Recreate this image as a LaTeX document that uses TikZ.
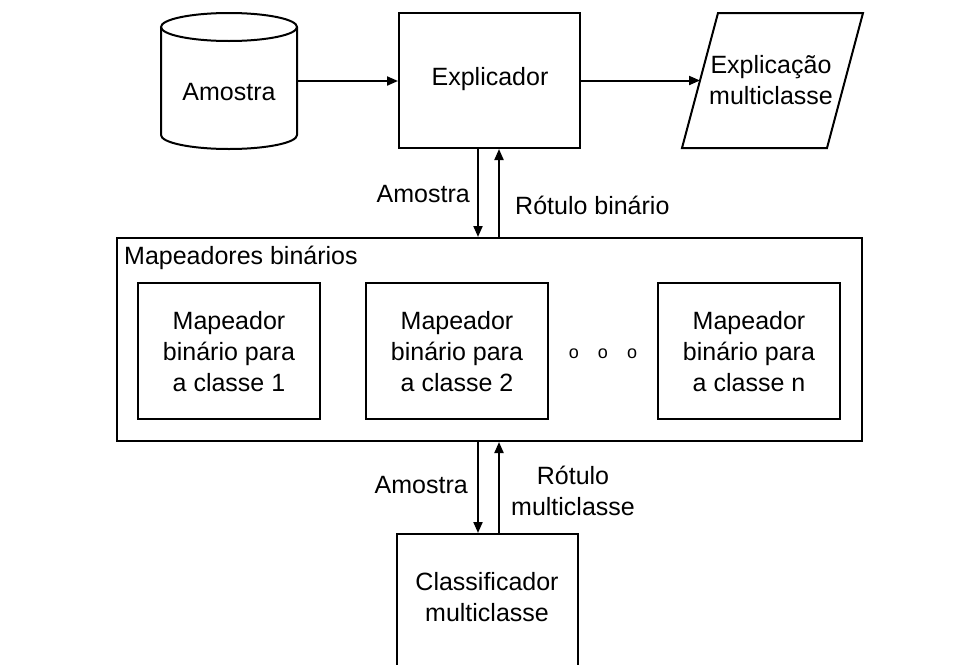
\documentclass[tikz,border=0pt]{standalone}
\usepackage{fontspec}
\setmainfont{Liberation Sans}
\usetikzlibrary{arrows.meta,calc}
\tikzset{
  lw/.style={line width=2pt},
  boxnode/.style={draw, lw, rectangle, inner sep=0pt, align=center},
  arr/.style={lw, -{Triangle[length=11pt,width=9pt]}},
  txt/.style={inner sep=0pt, align=center, font=\fontsize{25}{31}\selectfont},
}
\begin{document}
\begin{tikzpicture}[x=1pt,y=-1pt]
\useasboundingbox (0,0) rectangle (968,664);
\fill[white] (0,0) rectangle (968,664);
\clip (0,0) rectangle (968,664);
% cylinder
\node[inner sep=0pt, minimum width=136pt, minimum height=136pt] (cyl) at (229,81) {};
\draw[lw] (161,27) -- (161,135) arc[start angle=180, end angle=0, x radius=68, y radius=14] -- (297,27);
\draw[lw] (229,27) ellipse [x radius=68, y radius=14];
\node[txt] (cyltxt) at (229,92) {Amostra};
% explicador
\node[boxnode, minimum width=181pt, minimum height=135pt] (expl) at (489.5,80.5) {};
\node[txt] (expltxt) at (490,79) {Explicador};
% parallelogram output
\coordinate (pTL) at (718,13);
\coordinate (pTR) at (863,13);
\coordinate (pBR) at (827,148);
\coordinate (pBL) at (682,148);
\draw[lw] (pTL) -- (pTR) -- (pBR) -- (pBL) -- cycle;
\coordinate (pin) at ($(pBL)!0.5!(pTL)$);
\node[txt] (outtxt) at (771,80) {Explicação\\multiclasse};
% top arrows
\draw[arr] (cyl.east |- 0,81) -- (expl.west |- 0,81);
\draw[arr] (expl.east |- pin) -- (pin);
% big container
\node[boxnode, minimum width=745pt, minimum height=203pt] (big) at (489.5,339.5) {};
\node[txt, anchor=west] (bigtxt) at (124,258) {Mapeadores binários};
\node[boxnode, minimum width=182pt, minimum height=136pt] (m1) at (229,351) {};
\node[boxnode, minimum width=182pt, minimum height=136pt] (m2) at (457,351) {};
\node[boxnode, minimum width=182pt, minimum height=136pt] (mn) at (749,351) {};
\node[txt] (m1txt) at (229,352) {Mapeador\\binário para\\a classe 1};
\node[txt] (m2txt) at (457,352) {Mapeador\\binário para\\a classe 2};
\node[txt] (mntxt) at (749,352) {Mapeador\\binário para\\a classe n};
\node[txt, font=\fontsize{18}{20}\selectfont] (dots) at (603,354) {o\hspace{19pt}o\hspace{19pt}o};
% arrows between explicador and container
\draw[arr] (expl.south -| 478,0) -- (big.north -| 478,0);
\draw[arr] (big.north -| 499,0) -- (expl.south -| 499,0);
\node[txt, anchor=east] (l1) at (470,194) {Amostra};
\node[txt, anchor=west] (l2) at (515,205) {Rótulo binário};
% classifier
\node[boxnode, minimum width=181pt, minimum height=140pt, anchor=north] (clf) at (487.5,533) {};
\node[txt] (clftxt) at (487,597) {Classificador\\multiclasse};
\draw[arr] (big.south -| 478,0) -- (clf.north -| 478,0);
\draw[arr] (clf.north -| 499,0) -- (big.south -| 499,0);
\node[txt, anchor=east] (l3) at (468,485) {Amostra};
\node[txt] (l4) at (573,491) {Rótulo\\multiclasse};
\end{tikzpicture}
\end{document}
